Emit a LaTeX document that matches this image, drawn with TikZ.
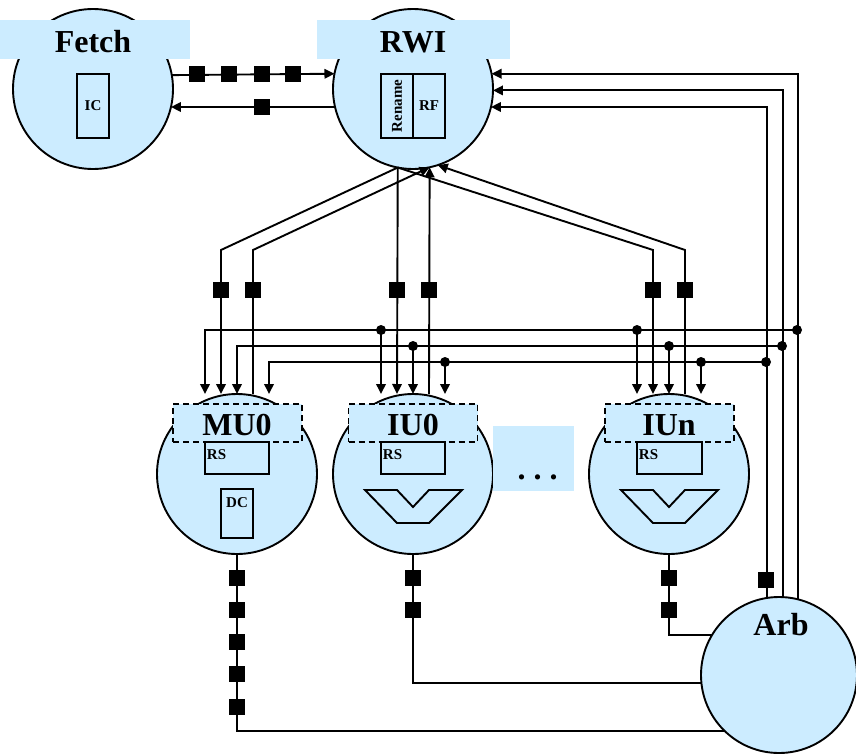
\documentclass[tikz,border=0pt]{standalone}
\usepackage{fontspec}
\setmainfont{Liberation Serif}
\usetikzlibrary{arrows.meta}
\definecolor{unitblue}{RGB}{204,236,255}
\newcommand\bigtxt{\fontsize{32}{36}\selectfont\bfseries}
\newcommand\smalltxt{\fontsize{15}{18}\selectfont\bfseries}

\begin{document}
\begin{tikzpicture}[x=1pt, y=-1pt, line width=1.9pt,
  unit/.style={circle, draw, fill=unitblue, inner sep=0pt, outer sep=0pt, minimum size=160pt},
  hdrbox/.style={fill=unitblue, inner sep=0pt, outer sep=0pt, anchor=north west},
  tagbox/.style={draw, dash pattern=on 6pt off 4pt, fill=unitblue, inner sep=0pt,
                 minimum width=129pt, minimum height=38pt},
  blk/.style={draw, inner sep=0pt, outer sep=0pt, font=\smalltxt},
  big/.style={font=\bigtxt, inner sep=0pt, anchor=base},
  small/.style={font=\smalltxt, inner sep=0pt},
  reg/.style={fill=black, minimum size=15.5pt, inner sep=0pt},
  junc/.style={circle, fill=black, minimum size=10pt, inner sep=0pt},
  arr/.style={-{Triangle[length=10pt,width=9.5pt]}},
]
\useasboundingbox (0,0) rectangle (856,755);

% ---- units ----
\node[unit] (fetch) at (93,89) {};
\node[unit] (rwi) at (413,89) {};
\node[unit] (mu0) at (237,474) {};
\node[unit] (iu0) at (413,474) {};
\node[unit] (iun) at (669,474) {};
\node[unit, minimum size=156pt] (arb) at (779,675) {};

% ---- headers ----
\node[hdrbox, minimum width=190pt, minimum height=39pt] (fetchhdr) at (0,20) {};
\node[hdrbox, minimum width=193pt, minimum height=39pt] (rwihdr) at (317,20) {};
\node[big] (fetchtxt) at (93,52) {Fetch};
\node[big] (rwitxt) at (413,52) {RWI};

\node[tagbox] (mu0tag) at (237.5,423) {};
\node[tagbox] (iu0tag) at (413,423) {};
\node[tagbox] (iuntag) at (669.5,423) {};
\node[big] (mu0txt) at (237,435) {MU0};
\node[big] (iu0txt) at (413,435) {IU0};
\node[big] (iuntxt) at (669,435) {IUn};

\node[big] (arbtxt) at (781,635) {Arb};

\node[hdrbox, minimum width=81pt, minimum height=65pt] (morebox) at (493,426) {};
\node[big] (moretxt) at (537.5,479) {.\ .\ .};

% ---- inner blocks ----
\node[blk, minimum width=32pt, minimum height=64pt] (ic) at (93,106) {IC};
\node[blk, minimum width=32pt, minimum height=64pt] (ren) at (397,106) {};
\node[small, rotate=90] (rentxt) at (397,106) {Rename};
\node[blk, minimum width=32pt, minimum height=64pt] (rf) at (429,106) {RF};

\node[blk, minimum width=64pt, minimum height=32pt] (mu0rs) at (237,458) {};
\node[blk, minimum width=64pt, minimum height=32pt] (iu0rs) at (413,458) {};
\node[blk, minimum width=65pt, minimum height=32pt] (iunrs) at (669.5,458) {};
\node[small, anchor=base west] (mu0rstxt) at (206,459) {RS};
\node[small, anchor=base west] (iu0rstxt) at (382,459) {RS};
\node[small, anchor=base west] (iunrstxt) at (638,459) {RS};

\node[blk, minimum width=32pt, minimum height=49pt] (dc) at (237,513.5) {};
\node[small, anchor=base] (dctxt) at (237,507) {DC};

% ALUs
\foreach \cx in {413,669}
  \draw[shift={(\cx,0)}] (-48,490) -- (-16,490) -- (0,507) -- (16,490) -- (49,490)
        -- (16,523) -- (-16,523) -- cycle;

% ---- Fetch <-> RWI ----
\draw[arr] (fetch.10.8) -- (rwi.169.2);
\draw[arr] (rwi.193) -- (fetch.-13);
\node[reg] (f1) at (197,74) {};
\node[reg] (f2) at (229,74) {};
\node[reg] (f3) at (262,74) {};
\node[reg] (f4) at (293,74) {};
\node[reg] (bk) at (262,107) {};

% ---- RWI <-> execution units ----
\draw[arr] (rwi.-101.5) -- (221,250) -- ([xshift=-16pt]mu0.north);
\draw[arr] ([xshift=16pt]mu0.north) -- (253,250) -- (rwi.-78.5);
\draw[arr] (rwi.-101.5) -- ([xshift=-16pt]iu0.north);
\draw[arr] ([xshift=16pt]iu0.north) -- (rwi.-78.5);
\draw[arr] (rwi.-101.5) -- (653,250) -- ([xshift=-16pt]iun.north);
\draw[arr] ([xshift=16pt]iun.north) -- (685,250) -- (rwi.-72.5);
\node[reg] (m1) at (221,290) {};
\node[reg] (m2) at (253,290) {};
\node[reg] (i1) at (397,290) {};
\node[reg] (i2) at (429,290) {};
\node[reg] (n1) at (653,290) {};
\node[reg] (n2) at (685,290) {};

% ---- Arb -> RWI and broadcast buses ----
\draw[arr] (arb.76.7) |- (rwi.11.5);
\draw[arr] (arb.87.8) |- (rwi.-1.4);
\draw[arr] (arb.99.6) |- (rwi.-13);
\node[reg] (a1) at (766,580) {};

\node[junc] (j1) at (797,330) {};
\node[junc] (j1b) at (381,330) {};
\node[junc] (j1c) at (637,330) {};
\draw[arr] (j1.center) -| ([xshift=-32pt]mu0.north);
\draw[arr] (j1b.center) -- ([xshift=-32pt]iu0.north);
\draw[arr] (j1c.center) -- ([xshift=-32pt]iun.north);

\node[junc] (j2) at (782,346) {};
\node[junc] (j2b) at (413,346) {};
\node[junc] (j2c) at (669,346) {};
\draw[arr] (j2.center) -| (mu0.north);
\draw[arr] (j2b.center) -- (iu0.north);
\draw[arr] (j2c.center) -- (iun.north);

\node[junc] (j3) at (766,362) {};
\node[junc] (j3b) at (445,362) {};
\node[junc] (j3c) at (701,362) {};
\draw[arr] (j3.center) -| ([xshift=32pt]mu0.north);
\draw[arr] (j3b.center) -- ([xshift=32pt]iu0.north);
\draw[arr] (j3c.center) -- ([xshift=32pt]iun.north);

% ---- units -> Arb ----
\draw (mu0.south) |- (arb.-134.1);
\draw (iu0.south) |- (arb.-174.1);
\draw (iun.south) |- (arb.149.1);
\foreach \k/\yy in {1/578,2/610,3/642,4/674,5/707}
  \node[reg] (mq\k) at (237,\yy) {};
\node[reg] (iq1) at (413,578) {};
\node[reg] (iq2) at (413,610) {};
\node[reg] (nq1) at (669,578) {};
\node[reg] (nq2) at (669,610) {};
\end{tikzpicture}
\end{document}
